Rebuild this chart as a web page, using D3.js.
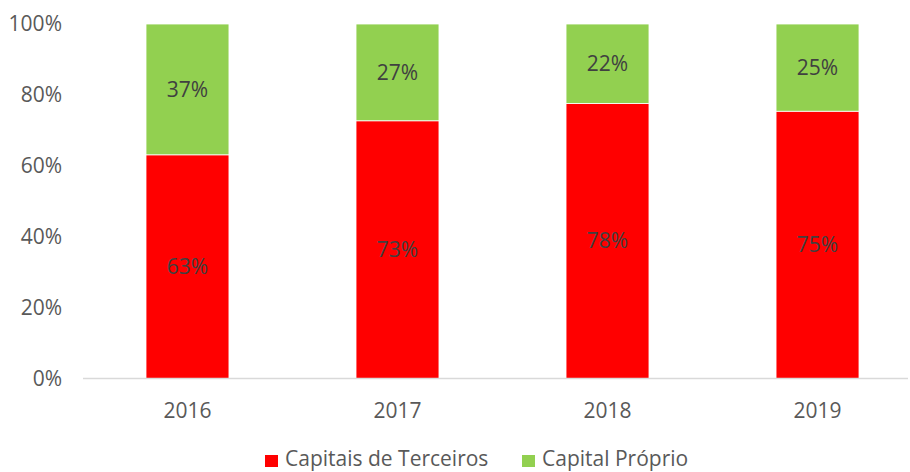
<!DOCTYPE html>
<html>
<head>
<meta charset="utf-8">
<script src="https://cdn.jsdelivr.net/npm/d3@7"></script>
<style>
  body { margin: 0; background: #fff; }
  text { font-family: "Open Sans", "Noto Sans", sans-serif; }
</style>
</head>
<body>
<script>
const WIDTH = 910;
const HEIGHT = 472;
const FS = 21;

// chart data
const years = ["2016", "2017", "2018", "2019"];
const terceiros = [63.1, 72.7, 77.6, 75.4];
const proprio = [36.9, 27.3, 22.4, 24.6];
const seriesNames = ["Capitais de Terceiros", "Capital Próprio"];
const seriesColors = ["#ff0000", "#92d050"];
const yTicks = [0, 20, 40, 60, 80, 100];

const svg = d3.select("body").append("svg")
    .attr("width", WIDTH)
    .attr("height", HEIGHT);

const x = d3.scaleBand()
    .domain(years)
    .range([83, 922])
    .paddingInner(0.605)
    .paddingOuter(0.3);

const y = d3.scaleLinear()
    .domain([0, 100])
    .range([378.5, 24]);

// y axis labels (no line)
svg.append("g")
    .selectAll("text")
    .data(yTicks)
    .join("text")
    .attr("x", 62)
    .attr("y", d => y(d))
    .attr("dy", "0.35em")
    .attr("text-anchor", "end")
    .attr("fill", "#595959")
    .attr("font-size", FS)
    .text(d => d + "%");

// stacked data
const rows = years.map((yr, i) => ({ year: yr, t: terceiros[i], p: proprio[i] }));
const stack = d3.stack().keys(["t", "p"])(rows);

const groups = svg.append("g")
    .selectAll("g")
    .data(stack)
    .join("g")
    .attr("fill", (d, i) => seriesColors[i]);

groups.selectAll("rect")
    .data(d => d)
    .join("rect")
    .attr("x", d => x(d.data.year))
    .attr("width", x.bandwidth())
    .attr("y", d => y(d[1]))
    .attr("height", d => y(d[0]) - y(d[1]))
    .attr("stroke", "#fff")
    .attr("stroke-width", 0.8);

// value labels in the middle of each segment
groups.selectAll("text")
    .data(d => d)
    .join("text")
    .attr("x", d => x(d.data.year) + x.bandwidth() / 2)
    .attr("y", d => y((d[0] + d[1]) / 2))
    .attr("dy", "0.35em")
    .attr("text-anchor", "middle")
    .attr("fill", "#404040")
    .attr("font-size", FS)
    .text(d => Math.round(d[1] - d[0]) + "%");

// baseline
svg.append("line")
    .attr("x1", 83)
    .attr("x2", 908)
    .attr("y1", y(0))
    .attr("y2", y(0))
    .attr("stroke", "#d9d9d9")
    .attr("stroke-width", 1.5);

// x axis labels
svg.append("g")
    .selectAll("text")
    .data(years)
    .join("text")
    .attr("x", d => x(d) + x.bandwidth() / 2)
    .attr("y", 410.5)
    .attr("dy", "0.35em")
    .attr("text-anchor", "middle")
    .attr("fill", "#595959")
    .attr("font-size", FS)
    .text(d => d);

// legend (kept just inside the bottom edge)
const legend = svg.append("g");
const legX = [265, 522];
seriesNames.forEach((name, i) => {
    legend.append("rect")
        .attr("x", legX[i])
        .attr("y", 455)
        .attr("width", 13)
        .attr("height", 12)
        .attr("fill", seriesColors[i]);
    legend.append("text")
        .attr("x", legX[i] + 20)
        .attr("y", 466)
        .attr("fill", "#595959")
        .attr("font-size", FS)
        .text(name);
});
</script>
</body>
</html>
